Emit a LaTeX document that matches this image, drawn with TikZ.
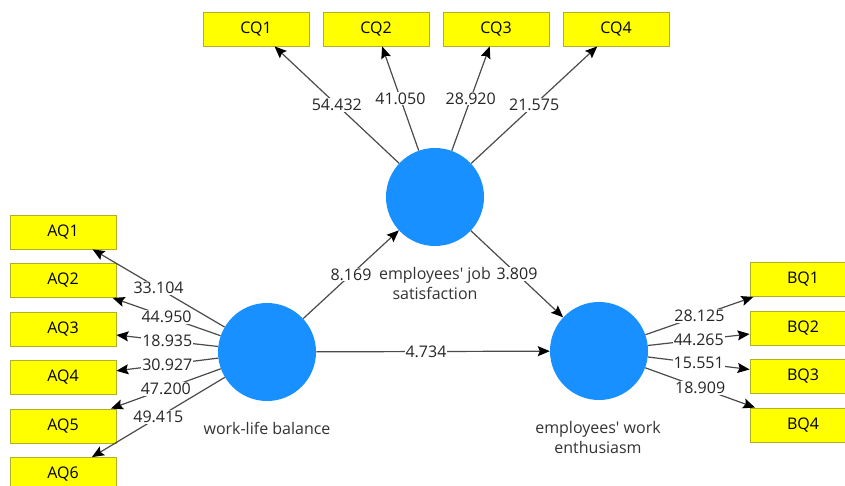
\documentclass[tikz,border=0pt]{standalone}
\usepackage{fontspec}
\setmainfont{Open Sans}
\usetikzlibrary{arrows.meta}
\definecolor{lvblue}{RGB}{24,144,255}
\definecolor{mvyellow}{RGB}{255,255,0}
\definecolor{mvborder}{RGB}{175,175,40}
\definecolor{pathgray}{RGB}{75,75,75}
\begin{document}
\begin{tikzpicture}[x=1pt,y=-1pt,
  mv/.style={draw=mvborder,fill=mvyellow,line width=0.8pt,minimum width=106pt,minimum height=34pt,inner sep=0pt,font=\fontsize{16}{18}\selectfont},
  lv/.style={circle,fill=lvblue,minimum size=98pt,inner sep=0pt},
  lvlabel/.style={font=\fontsize{16}{20}\selectfont,text=black!80,align=center,inner sep=0pt},
  conn/.style={draw=pathgray,line width=1.2pt,-{Stealth[length=12pt,width=10pt,inset=2pt,color=black]}},
  val/.style={fill=white,inner sep=1pt,font=\fontsize{16}{18}\selectfont,text=black!85}]
\clip (0,0) rectangle (845,486);
\fill[white] (0,0) rectangle (845,486);
% latent variables
\node[lv] (JS) at (435,197) {};
\node[lv] (WLB) at (267,352) {};
\node[lv] (WE) at (599,351) {};
\node[lvlabel] (JSlab) at (435,283) {employees\textquotesingle\ job\\satisfaction};
\node[lvlabel] (WLBlab) at (267,428) {work-life balance};
\node[lvlabel] (WElab) at (598,437) {employees\textquotesingle\ work\\enthusiasm};
% indicators
\node[mv] (CQ1) at (256,29) {CQ1};
\node[mv] (CQ2) at (376,29) {CQ2};
\node[mv] (CQ3) at (496,29) {CQ3};
\node[mv] (CQ4) at (616,29) {CQ4};
\node[mv] (AQ1) at (63,232) {AQ1};
\node[mv] (AQ2) at (63,280.5) {AQ2};
\node[mv] (AQ3) at (63,329) {AQ3};
\node[mv] (AQ4) at (63,377.5) {AQ4};
\node[mv] (AQ5) at (63,426) {AQ5};
\node[mv] (AQ6) at (63,474.5) {AQ6};
\node[mv] (BQ1) at (803,279.5) {BQ1};
\node[mv] (BQ2) at (803,328) {BQ2};
\node[mv] (BQ3) at (803,376) {BQ3};
\node[mv] (BQ4) at (803,425) {BQ4};
% outer model
\draw[conn] (JS) -- node[val]{54.432} (CQ1);
\draw[conn] (JS) -- node[val]{41.050} (CQ2);
\draw[conn] (JS) -- node[val]{28.920} (CQ3);
\draw[conn] (JS) -- node[val]{21.575} (CQ4);
\draw[conn] (WLB) -- node[val]{33.104} (AQ1);
\draw[conn] (WLB) -- node[val]{44.950} (AQ2);
\draw[conn] (WLB) -- node[val]{18.935} (AQ3);
\draw[conn] (WLB) -- node[val]{30.927} (AQ4);
\draw[conn] (WLB) -- node[val]{47.200} (AQ5);
\draw[conn] (WLB) -- node[val]{49.415} (AQ6);
\draw[conn] (WE) -- node[val]{28.125} (BQ1);
\draw[conn] (WE) -- node[val]{44.265} (BQ2);
\draw[conn] (WE) -- node[val]{15.551} (BQ3);
\draw[conn] (WE) -- node[val]{18.909} (BQ4);
% inner model
\draw[conn] (WLB) -- node[val]{8.169} (JS);
\draw[conn] (JS) -- node[val]{3.809} (WE);
\draw[conn] (WLB) -- node[val,pos=0.47]{4.734} (WE);
\end{tikzpicture}
\end{document}
